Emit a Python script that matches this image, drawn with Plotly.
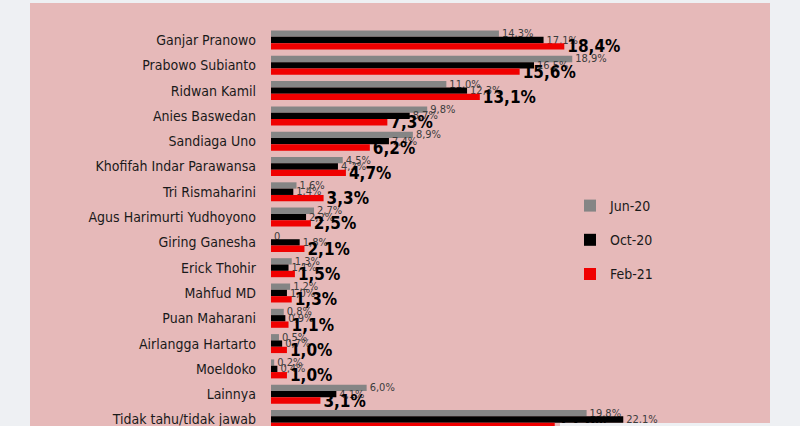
import plotly.graph_objects as go

# Survey results: electability of presidential candidates (percent)
candidates = [
    "Ganjar Pranowo", "Prabowo Subianto", "Ridwan Kamil", "Anies Baswedan",
    "Sandiaga Uno", "Khofifah Indar Parawansa", "Tri Rismaharini",
    "Agus Harimurti Yudhoyono", "Giring Ganesha", "Erick Thohir",
    "Mahfud MD", "Puan Maharani", "Airlangga Hartarto", "Moeldoko",
    "Lainnya", "Tidak tahu/tidak jawab",
]
jun20 = [14.3, 18.9, 11.0, 9.8, 8.9, 4.5, 1.6, 2.7, 0.0, 1.3, 1.2, 0.8, 0.5, 0.2, 6.0, 19.8]
oct20 = [17.1, 16.5, 12.3, 8.7, 7.4, 4.2, 1.4, 2.2, 1.8, 1.1, 1.0, 0.9, 0.7, 0.4, 4.1, 22.1]
feb21 = [18.4, 15.6, 13.1, 7.3, 6.2, 4.7, 3.3, 2.5, 2.1, 1.5, 1.3, 1.1, 1.0, 1.0, 3.1, 17.8]
periods = ["Jun-20", "Oct-20", "Feb-21"]

W, H = 800, 426
ML, MT = 271, 3          # plot area offset (bars start at ML)
PX_PER_PCT = 15.94
ROW_PX, FIRST_ROW_PX = 25.3, 40

PINK = "#e6b9b9"
OUTER = "#eef0f3"
FONT = "DejaVu Sans Condensed, DejaVu Sans, sans-serif"


def pct_label(v):
    return "0" if v == 0 else f"{v:.1f}".replace(".", ",") + "%"


series = [
    (periods[0], jun20, "#858585", dict(size=11, color="#3c3c3c", family=FONT)),
    (periods[1], oct20, "#000000", dict(size=11, color="#3c3c3c", family=FONT)),
    (periods[2], feb21, "#f00000", dict(size=17, color="#000000",
                                        family="DejaVu Sans Condensed, DejaVu Sans",
                                        weight="bold")),
]

fig = go.Figure()
for name, vals, color, tfont in series:
    fig.add_trace(go.Bar(
        x=vals, y=candidates, orientation="h", name=name,
        marker=dict(color=color, line=dict(width=0)),
        text=[pct_label(v) for v in vals],
        textposition="outside", textangle=0, constraintext="none",
        textfont=tfont, cliponaxis=False, legendgroup=name,
    ))

plot_w = W - ML
plot_h = H - MT
row_top = (FIRST_ROW_PX - MT) / ROW_PX
row_bot = (H - FIRST_ROW_PX) / ROW_PX


def px_x(p):
    return (p - ML) / plot_w


def px_y(p):
    return 1 - (p - MT) / plot_h


frame = dict(type="rect", xref="paper", yref="paper", fillcolor=OUTER,
             line=dict(width=0), layer="above")
shapes = [
    dict(frame, x0=px_x(0), x1=px_x(30), y0=px_y(H), y1=px_y(0)),
    dict(frame, x0=px_x(770), x1=px_x(W), y0=px_y(H), y1=px_y(0)),
    dict(frame, x0=px_x(0), x1=px_x(W), y0=px_y(MT), y1=px_y(0)),
    dict(frame, x0=px_x(560), x1=px_x(W), y0=px_y(H), y1=px_y(H - 3)),
]

fig.update_layout(
    width=W, height=H,
    margin=dict(l=ML, r=0, t=MT, b=0, pad=0),
    paper_bgcolor=PINK, plot_bgcolor=PINK,
    barmode="group", bargap=0.25, bargroupgap=0,
    font=dict(family=FONT, color="#1a1a1a"),
    showlegend=True,
    legend=dict(
        x=px_x(570), y=px_y(190), xanchor="left", yanchor="top",
        bgcolor="rgba(0,0,0,0)", font=dict(size=14, color="#1a1a1a", family=FONT),
        tracegroupgap=13, itemwidth=30, traceorder="grouped",
    ),
    xaxis=dict(range=[0, plot_w / PX_PER_PCT], visible=False, fixedrange=True),
    yaxis=dict(
        type="category", categoryorder="array", categoryarray=candidates,
        range=[row_bot, -row_top], showgrid=False, zeroline=False, showline=False,
        ticks="", ticklabelstandoff=14, tickfont=dict(size=14, color="#1a1a1a", family=FONT),
    ),
    shapes=shapes,
)

fig.write_html("out.html")
